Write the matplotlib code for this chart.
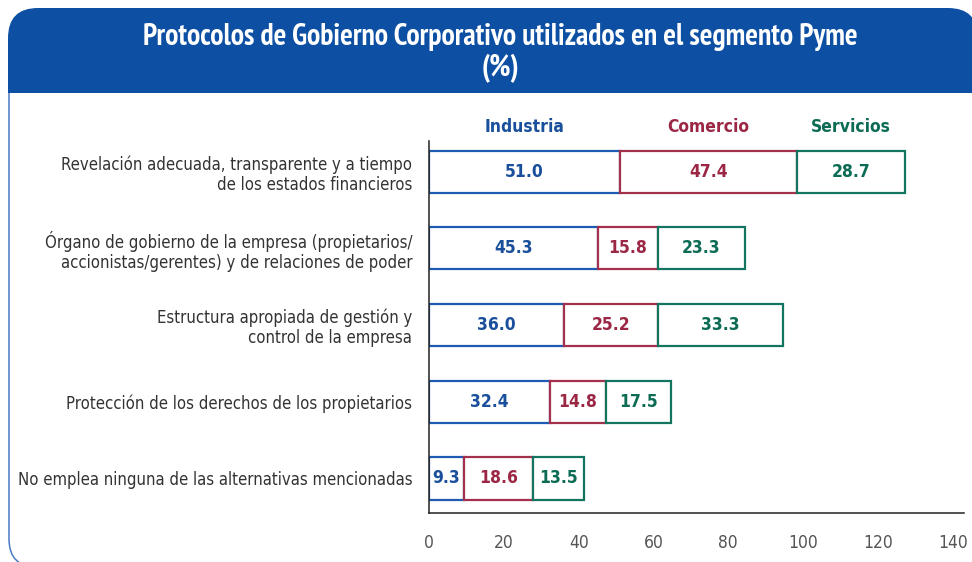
import matplotlib
matplotlib.use("Agg")
import matplotlib.pyplot as plt
import matplotlib.transforms as mtransforms
from matplotlib.patches import FancyBboxPatch, Rectangle
import numpy as np

# ---------------- data ----------------
categories = [
    "Revelación adecuada, transparente y a tiempo\nde los estados financieros",
    "Órgano de gobierno de la empresa (propietarios/\naccionistas/gerentes) y de relaciones de poder",
    "Estructura apropiada de gestión y\ncontrol de la empresa",
    "Protección de los derechos de los propietarios",
    "No emplea ninguna de las alternativas mencionadas",
]
series_names = ["Industria", "Comercio", "Servicios"]
industria = [51.0, 45.3, 36.0, 32.4, 9.3]
comercio = [47.4, 15.8, 25.2, 14.8, 18.6]
servicios = [28.7, 23.3, 33.3, 17.5, 13.5]
xticks = [0, 20, 40, 60, 80, 100, 120, 140]
title_line1 = "Protocolos de Gobierno Corporativo utilizados en el segmento Pyme"
title_line2 = "(%)"

# ---------------- style ----------------
W, H = 9.72, 5.62
banner_blue = "#0D4FA3"
border_blue = "#4A7BC2"
text_cols = ["#1A4F9C", "#9B2745", "#0C6B55"]
edge_cols = ["#1F5BB0", "#A3304C", "#137560"]
FONT = "DejaVu Sans"
STRETCH = "condensed"

fig = plt.figure(figsize=(W, H), dpi=100)
fig.patch.set_facecolor("white")
tr_in = fig.dpi_scale_trans

def px(x, y):
    """pixel from top-left -> inches from bottom-left"""
    return x / 100.0, H - y / 100.0

# outer rounded frame (right side runs off the canvas)
x0, y0 = px(9, 567)
frame = FancyBboxPatch((x0, y0), (1010 - 9) / 100.0, (567 - 30) / 100.0,
                       boxstyle="round,pad=0,rounding_size=0.28",
                       transform=tr_in, facecolor="none", edgecolor=border_blue,
                       lw=1.1, zorder=-5)
fig.patches.append(frame)

# title banner (rounded at top, square at bottom)
bx0, by0 = px(8, 93)
bw = (978 - 8) / 100.0
banner = FancyBboxPatch((bx0, by0), bw, (93 - 8) / 100.0,
                        boxstyle="round,pad=0,rounding_size=0.30",
                        transform=tr_in, facecolor=banner_blue, edgecolor="none", zorder=-4)
fig.patches.append(banner)
sq = Rectangle((bx0, by0), bw, 0.40, transform=tr_in,
               facecolor=banner_blue, edgecolor="none", zorder=-4)
fig.patches.append(sq)

tx, ty = px(500, 37)
fig.text(tx, ty, title_line1, transform=tr_in, ha="center", va="center", color="white",
         fontsize=21.3, fontweight="bold", family="PT Sans Narrow", zorder=3)
tx, ty = px(500, 68)
fig.text(tx, ty, title_line2, transform=tr_in, ha="center", va="center", color="white",
         fontsize=21.3, fontweight="bold", family="PT Sans Narrow", zorder=3)

# ---------------- axes ----------------
ax_left, ax_right, ax_top, ax_bottom = 429, 964, 141, 513
ax = fig.add_axes([ax_left / 972, (562 - ax_bottom) / 562,
                   (ax_right - ax_left) / 972, (ax_bottom - ax_top) / 562])
ax.set_facecolor("none")

y = np.arange(len(categories))
vals = [industria, comercio, servicios]
left = np.zeros(len(categories))
bar_h = 0.55
trans = mtransforms.blended_transform_factory(ax.transData, ax.transAxes)
for i, v in enumerate(vals):
    v = np.array(v)
    ax.barh(y, v, left=left, height=bar_h, facecolor="white",
            edgecolor=edge_cols[i], linewidth=1.6, zorder=2)
    for yy, l, val in zip(y, left, v):
        ax.text(l + val / 2, yy, f"{val:.1f}", ha="center", va="center",
                color=text_cols[i], fontsize=12.5, fontweight="bold",
                family=FONT, fontstretch=STRETCH, zorder=3)
    # series header above the first row
    ax.text(left[0] + v[0] / 2, 1.038, series_names[i], transform=trans,
            ha="center", va="center", color=text_cols[i], fontsize=12.5,
            fontweight="bold", family=FONT, fontstretch=STRETCH)
    left = left + v

ax.set_xlim(0, 143)
ax.set_ylim(len(categories) - 1 + 0.45, -0.40)
ax.set_yticks(y)
ax.set_yticklabels(categories, fontsize=12, color="#333333", family=FONT,
                   fontstretch=STRETCH, linespacing=1.15)
ax.set_xticks(xticks)
ax.set_xticklabels([str(t) for t in xticks], fontsize=12.5, color="#555555",
                   family=FONT, fontstretch=STRETCH)
ax.tick_params(axis="both", length=0)
ax.tick_params(axis="y", pad=12)
ax.tick_params(axis="x", pad=15)
for s in ["top", "right"]:
    ax.spines[s].set_visible(False)
for s in ["left", "bottom"]:
    ax.spines[s].set_color("#222222")
    ax.spines[s].set_linewidth(1.1)

fig.savefig("out.png", dpi=100)
